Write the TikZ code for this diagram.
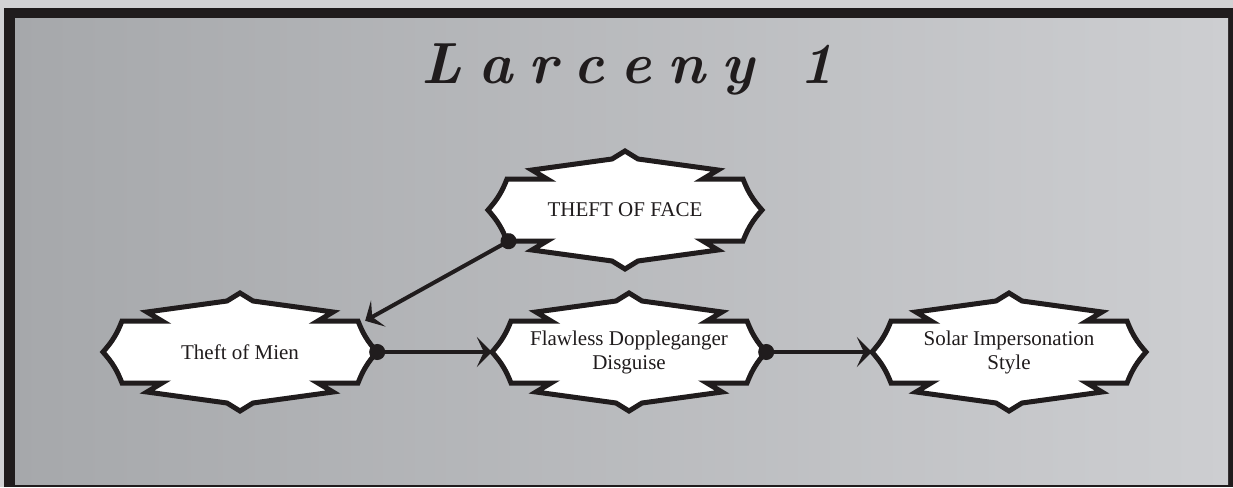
\documentclass[tikz,border=0pt]{standalone}
\usepackage{fontspec}
\usetikzlibrary{arrows.meta,backgrounds}
\newfontfamily\skillfont{Liberation Serif}
\definecolor{inkblack}{HTML}{201C1D}
\definecolor{stoneleft}{HTML}{A6A8AB}
\definecolor{stoneright}{HTML}{CDCED1}
\definecolor{paperrim}{HTML}{D2D2D4}

\begin{document}
\begin{tikzpicture}[
    x=1pt, y=-1pt,
    skill/.style={minimum width=274pt, minimum height=62pt, inner sep=0pt,
                  align=center, text=inkblack,
                  font=\skillfont\fontsize{21}{24}\selectfont},
    badge/.pic={\draw[inkblack, line width=5pt, fill=white, line join=miter, miter limit=20]
        (0,-59) -- (13,-51) -- (93,-40) -- (78,-31) -- (118,-31)
        to[bend right=10] (137,0) to[bend right=10] (118,31)
        -- (78,31) -- (93,40) -- (13,51) -- (0,59) -- (-13,51) -- (-93,40) -- (-78,31) -- (-118,31)
        to[bend right=10] (-137,0) to[bend right=10] (-118,-31)
        -- (-78,-31) -- (-93,-40) -- (-13,-51) -- cycle;},
    link/.style={{Circle[length=16pt]}-{Stealth[length=15pt, width=30pt, inset=7pt]},
                 inkblack, line width=4pt, shorten <=-8pt}
]
\useasboundingbox (0,0) rectangle (1233,487);
\node[anchor=base, text=inkblack, font=\fontsize{58}{58}\selectfont\bfseries\itshape]
      (title) at (628,83)
      {L\kern16pt a\kern16pt r\kern16pt c\kern16pt e\kern16pt n\kern16pt y\kern46pt 1};
\node[skill] (face) at (625,210) {THEFT OF FACE};
\node[skill] (mien) at (240,352) {Theft of Mien};
\node[skill] (flaw) at (629,352) {Flawless Doppleganger\\Disguise};
\node[skill] (solar) at (1009,352) {Solar Impersonation\\Style};
\begin{scope}[on background layer]
  \fill[paperrim] (0,0) rectangle (1233,487);
  \fill[inkblack] (4,8) rectangle (1233,487);
  \shade[left color=stoneleft, right color=stoneright] (15,19) rectangle (1228,484);
  \foreach \n in {face,mien,flaw,solar}
    \pic at (\n) {badge};
\end{scope}
\draw[link] (face.195) -- (mien.14);
\draw[link] (mien) -- (flaw);
\draw[link] (flaw) -- (solar);
\end{tikzpicture}
\end{document}
